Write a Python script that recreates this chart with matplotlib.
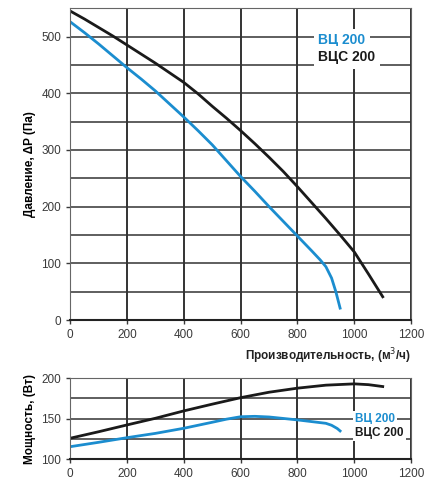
import matplotlib
matplotlib.use('Agg')
import matplotlib.pyplot as plt

plt.rcParams['font.family'] = ['Liberation Sans', 'DejaVu Sans']

# pressure curves
q_vc = [0, 50, 100, 150, 200, 250, 300, 350, 400, 450, 500, 550, 600, 650, 700,
        750, 800, 850, 880, 900, 920, 935, 950]
p_vc = [526, 507, 487, 466, 445, 425, 404, 381, 358, 334, 309, 281, 253, 227, 200,
        174, 148, 122, 106, 94, 74, 50, 21]
q_vcs = [0, 50, 100, 150, 200, 250, 300, 350, 400, 450, 500, 550, 600, 650, 700,
         750, 800, 850, 900, 950, 1000, 1050, 1100]
p_vcs = [545, 531, 516, 501, 485, 469, 453, 436, 419, 399, 377, 356, 334, 311, 287,
         262, 235, 207, 179, 150, 120, 81, 41]

# power curves
qw_vc = [0, 100, 200, 300, 400, 450, 500, 550, 600, 650, 700, 800, 900, 920, 940, 950]
w_vc = [115.6, 121, 126.7, 132, 138.3, 142, 145.7, 149.5, 152.5, 153, 152.2, 148.6,
        144.4, 142, 138, 135]
qw_vcs = [0, 100, 200, 300, 400, 500, 600, 700, 800, 900, 1000, 1050, 1100]
w_vcs = [126, 134, 142.4, 150.6, 159.7, 168, 176, 182.7, 187.7, 191.4, 193, 192, 189.7]

names = ['ВЦ 200', 'ВЦС 200']
blue = '#1b8dcf'
dark = '#1a1a1a'

fig = plt.figure(figsize=(4.44, 4.95), dpi=100)
ax1 = fig.add_axes([0.158, 0.3535, 0.768, 0.630])
ax2 = fig.add_axes([0.158, 0.072, 0.768, 0.164])


def style(ax, ymin, ymax, ystep, ylabels):
    ax.set_xlim(0, 1200)
    ax.set_ylim(ymin, ymax)
    ax.set_xticks(range(0, 1201, 200))
    ax.set_yticks(ylabels)
    ax.set_yticks([y for y in range(ymin, ymax + 1, ystep)], minor=True)
    ax.tick_params(labelsize=8.5, colors='#3a3a3a', length=3, width=1)
    ax.tick_params(which='minor', length=0)
    ax.grid(True, axis='x', color='#111111', lw=1.2)
    ax.grid(True, axis='y', which='both', color='#333333', lw=1.1)
    for s in ax.spines.values():
        s.set_color('#666666')
    ax.spines['bottom'].set_color('#222222')
    ax.spines['bottom'].set_linewidth(1.5)
    ax.set_axisbelow(True)


style(ax1, 0, 550, 50, range(0, 501, 100))
ax1.plot(q_vcs, p_vcs, color=dark, lw=2)
ax1.plot(q_vc, p_vc, color=blue, lw=2)
ax1.set_ylabel('Давление, ΔP (Па)', fontsize=8.5, fontweight='bold', labelpad=4)
ax1.text(1.0, -0.115, 'Производительность, (м$^3$/ч)', transform=ax1.transAxes,
         ha='right', va='center', fontsize=8.5, fontweight='bold', color='#222222')
ax1.text(0.728, 0.897, names[0], transform=ax1.transAxes, color=blue,
         fontsize=10, fontweight='bold', va='center',
         bbox=dict(facecolor='white', edgecolor='none', pad=3))
ax1.text(0.728, 0.842, names[1], transform=ax1.transAxes, color=dark,
         fontsize=10, fontweight='bold', va='center',
         bbox=dict(facecolor='white', edgecolor='none', pad=3))

style(ax2, 100, 200, 25, [100, 150, 200])
ax2.plot(qw_vcs, w_vcs, color=dark, lw=2)
ax2.plot(qw_vc, w_vc, color=blue, lw=2)
ax2.set_ylabel('Мощность, (Вт)', fontsize=8.5, fontweight='bold', labelpad=4)
ax2.text(0.835, 0.50, names[0], transform=ax2.transAxes, color=blue,
         fontsize=8.5, fontweight='bold', va='center',
         bbox=dict(facecolor='white', edgecolor='none', pad=1.5))
ax2.text(0.835, 0.33, names[1], transform=ax2.transAxes, color=dark,
         fontsize=8.5, fontweight='bold', va='center',
         bbox=dict(facecolor='white', edgecolor='none', pad=1.5))

fig.savefig('out.png', dpi=100)
